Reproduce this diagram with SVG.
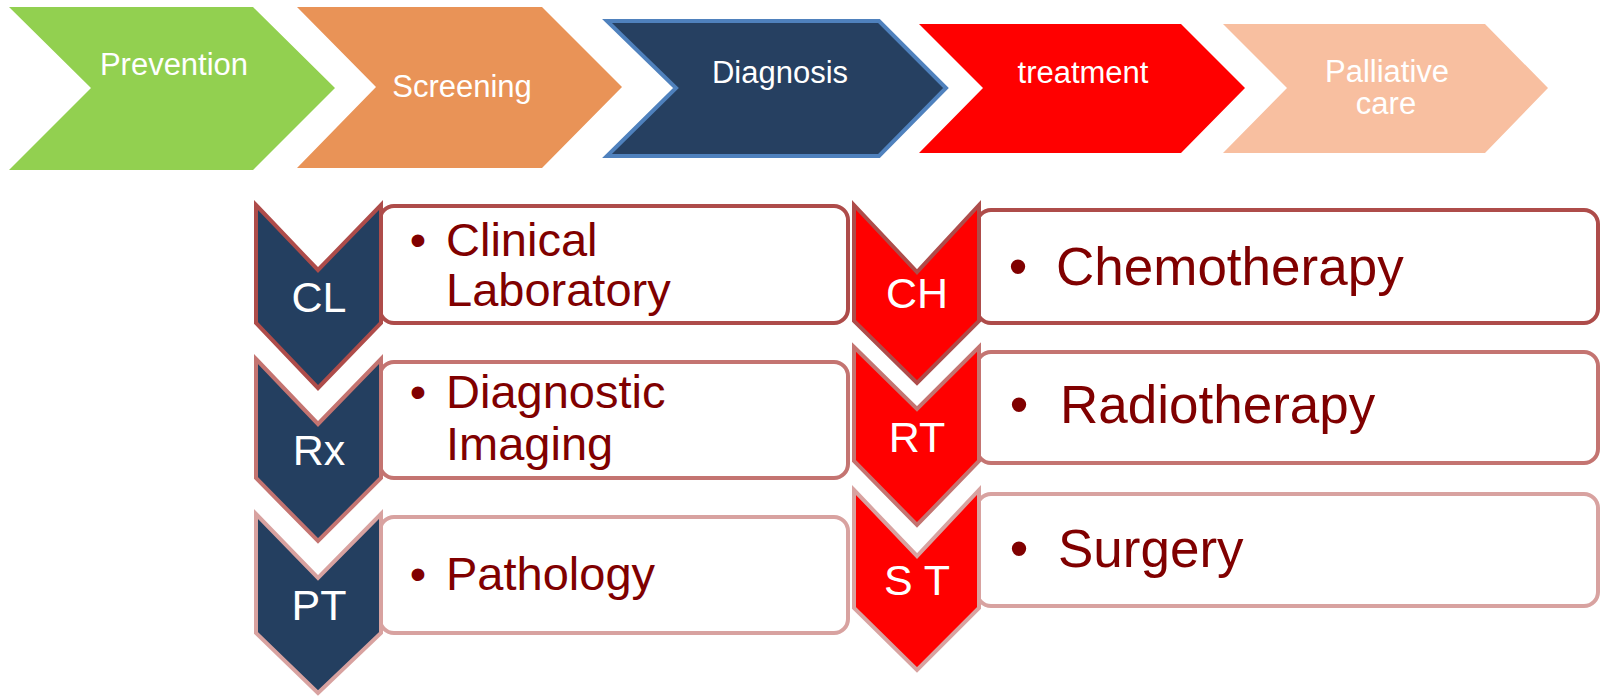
<svg xmlns="http://www.w3.org/2000/svg" width="1602" height="697" viewBox="0 0 1602 697">
  <style>
    .stage { font-family: "Liberation Sans", Arial, sans-serif; font-size: 31px; fill: #FFFFFF; text-anchor: middle; }
    .tag { font-family: "Liberation Sans", Arial, sans-serif; font-size: 43px; fill: #FFFFFF; text-anchor: middle; }
    .item { font-family: "Liberation Sans", Arial, sans-serif; fill: #800000; }
    .left { font-size: 47px; }
    .right { font-size: 53px; }
    .bullet { text-anchor: middle; }
    .box { fill: #FFFFFF; stroke-width: 4; }
    .chev { stroke-width: 4; stroke-linejoin: miter; }
    .navy { fill: #243F60; }
    .red { fill: #FF0000; }
    .s1 { stroke: #AE4C4A; }
    .s2 { stroke: #C47471; }
    .s3 { stroke: #D8A2A0; }
  </style>

  <!-- process stages -->
  <g id="stage-prevention">
    <polygon points="9,7 253,7 335,88 253,170 9,170 91,88" fill="#92D050"/>
    <text class="stage" x="174" y="75">Prevention</text>
  </g>
  <g id="stage-screening">
    <polygon points="297,7 542,7 622,87 542,168 297,168 376,87" fill="#E99357"/>
    <text class="stage" x="462" y="97">Screening</text>
  </g>
  <g id="stage-diagnosis">
    <polygon points="607,21 879,21 946,88 879,156 607,156 676,88" fill="#264061" stroke="#4F81BD" stroke-width="4"/>
    <text class="stage" x="780" y="83">Diagnosis</text>
  </g>
  <g id="stage-treatment">
    <polygon points="919,24 1181,24 1245,88 1181,153 919,153 983,88" fill="#FF0000"/>
    <text class="stage" x="1083" y="83">treatment</text>
  </g>
  <g id="stage-palliative">
    <polygon points="1223,24 1485,24 1548,88 1485,153 1223,153 1287,88" fill="#F8BFA0"/>
    <text class="stage" x="1387" y="82">Palliative</text>
    <text class="stage" x="1386" y="114">care</text>
  </g>

  <!-- diagnosis branches -->
  <g id="diag-cl">
    <rect class="box s1" x="380" y="206" width="468" height="117" rx="14"/>
    <polygon class="chev navy s1" points="256,205 318,270 381,205 381,323 318,388 256,323"/>
    <text class="tag" x="319" y="312">CL</text>
    <text class="item left bullet" x="418" y="256">•</text>
    <text class="item left" x="446" y="256">Clinical</text>
    <text class="item left" x="446" y="306">Laboratory</text>
  </g>
  <g id="diag-rx">
    <rect class="box s2" x="380" y="362" width="468" height="116" rx="14"/>
    <polygon class="chev navy s2" points="256,359 318,424 381,359 381,478 318,541 256,478"/>
    <text class="tag" x="319" y="465">Rx</text>
    <text class="item left bullet" x="418" y="408">•</text>
    <text class="item left" x="446" y="408">Diagnostic</text>
    <text class="item left" x="446" y="460">Imaging</text>
  </g>
  <g id="diag-pt">
    <rect class="box s3" x="380" y="517" width="468" height="116" rx="14"/>
    <polygon class="chev navy s3" points="256,514 318,578 381,514 381,633 318,693 256,633"/>
    <text class="tag" x="319" y="620">PT</text>
    <text class="item left bullet" x="418" y="590">•</text>
    <text class="item left" x="446" y="590">Pathology</text>
  </g>

  <!-- treatment branches -->
  <g id="treat-ch">
    <rect class="box s1" x="977" y="210" width="621" height="113" rx="14"/>
    <polygon class="chev red s1" points="854,205 917,272 979,205 979,321 917,383 854,321"/>
    <text class="tag" x="917" y="308">CH</text>
    <text class="item right bullet" x="1018" y="285">•</text>
    <text class="item right" x="1056" y="285">Chemotherapy</text>
  </g>
  <g id="treat-rt">
    <rect class="box s2" x="977" y="352" width="621" height="111" rx="14"/>
    <polygon class="chev red s2" points="854,347 917,409 979,347 979,461 917,525 854,461"/>
    <text class="tag" x="917" y="452">RT</text>
    <text class="item right bullet" x="1019" y="423">•</text>
    <text class="item right" x="1060" y="423">Radiotherapy</text>
  </g>
  <g id="treat-st">
    <rect class="box s3" x="977" y="494" width="621" height="112" rx="14"/>
    <polygon class="chev red s3" points="854,490 917,556 979,490 979,608 917,670 854,608"/>
    <text class="tag" x="917" y="595">S T</text>
    <text class="item right bullet" x="1019" y="567">•</text>
    <text class="item right" x="1058" y="567">Surgery</text>
  </g>

  <!-- no connectors: the stages touch as a chevron chain -->
  <g id="connectors"/>
</svg>
